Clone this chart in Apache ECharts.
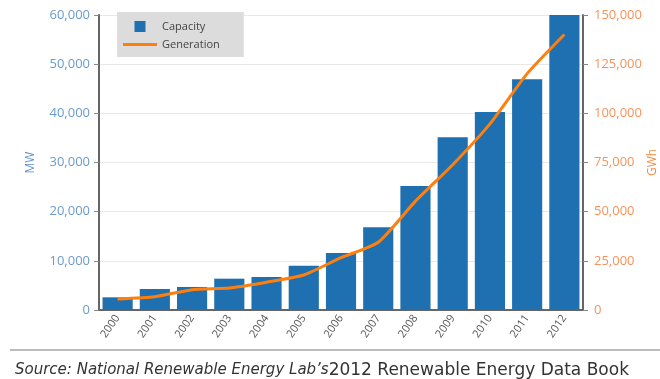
<!DOCTYPE html>
<html>
<head>
<meta charset="utf-8">
<script src="https://cdn.jsdelivr.net/npm/echarts@6/dist/echarts.min.js"></script>
<style>
  html, body { margin: 0; padding: 0; background: #fff; }
  #chart { width: 660px; height: 379px; }
</style>
</head>
<body>
<div id="chart"></div>
<script>
// Installed wind capacity (MW) and annual generation (GWh), US, 2000-2012
const years = ['2000','2001','2002','2003','2004','2005','2006','2007','2008','2009','2010','2011','2012'];
const capacityMW = [2578, 4275, 4685, 6372, 6725, 8993, 11575, 16824, 25237, 35159, 40267, 46916, 60007];
const generationGWh = [5593, 6737, 10354, 11187, 14144, 17811, 26589, 34450, 55363, 73886, 94652, 120177, 140089];
const mwTicks = { min: 0, max: 60000, interval: 10000 };
const gwhTicks = { min: 0, max: 150000, interval: 25000 };

const fmt = v => v.toLocaleString('en-US');
const font = '"Open Sans", "Noto Sans", sans-serif';
const sourceFont = '"DejaVu Sans", sans-serif';

const chart = echarts.init(document.getElementById('chart'), null, { renderer: 'canvas' });
chart.setOption({
  animation: false,
  textStyle: { fontFamily: font },
  grid: { left: 99, right: 77, top: 15, bottom: 69, outerBoundsMode: 'none', containLabel: false },
  legend: {
    orient: 'vertical',
    left: 117, top: 12,
    backgroundColor: '#dcdcdc',
    padding: [9, 24, 7, 6],
    itemWidth: 34, itemHeight: 11,
    itemGap: 7,
    textStyle: { color: '#444', fontSize: 11, fontFamily: font },
    data: [
      { name: 'Capacity', icon: 'path://M0,0h10v10h-10z' },
      { name: 'Generation', icon: 'path://M0,0h34v3h-34z' }
    ]
  },
  title: {
    left: 10, top: 357,
    text: '{i|Source: National Renewable Energy Lab’s}{n|2012 Renewable Energy Data Book}',
    textStyle: {
      fontWeight: 'normal',
      rich: {
        i: { fontStyle: 'italic', fontWeight: 'normal', fontSize: 15, color: '#333', fontFamily: sourceFont },
        n: { fontWeight: 'normal', fontSize: 17, color: '#333', fontFamily: sourceFont }
      }
    }
  },
  graphic: [
    { type: 'line', shape: { x1: 10, y1: 350, x2: 660, y2: 350 }, style: { stroke: '#bbb', lineWidth: 2 } }
  ],
  xAxis: {
    type: 'category',
    data: years,
    axisLine: { lineStyle: { color: '#666', width: 2 } },
    axisTick: { alignWithLabel: true, lineStyle: { color: '#888' }, length: 5 },
    axisLabel: { rotate: 55, color: '#555', fontSize: 11, margin: 6 }
  },
  yAxis: [
    {
      type: 'value', name: 'MW', nameLocation: 'middle', nameGap: 62, nameMoveOverlap: false,
      nameTextStyle: { color: '#5b8fc9', fontSize: 12 },
      min: mwTicks.min, max: mwTicks.max, interval: mwTicks.interval,
      axisLine: { show: true, lineStyle: { color: '#666', width: 2 } },
      axisTick: { show: true, length: 5, lineStyle: { color: '#888' } },
      axisLabel: { color: '#6a9bd0', fontSize: 13, formatter: fmt, margin: 9 },
      splitLine: { lineStyle: { color: '#e8e8e8' } }
    },
    {
      type: 'value', name: 'GWh', nameLocation: 'middle', nameGap: 64, nameMoveOverlap: false,
      nameTextStyle: { color: '#f58a3c', fontSize: 12 },
      min: gwhTicks.min, max: gwhTicks.max, interval: gwhTicks.interval,
      axisLine: { show: true, lineStyle: { color: '#666', width: 2 } },
      axisTick: { show: true, length: 5, lineStyle: { color: '#888' } },
      axisLabel: { color: '#f7935a', fontSize: 13, formatter: fmt, margin: 11 },
      splitLine: { show: false }
    }
  ],
  series: [
    {
      name: 'Capacity', type: 'bar', yAxisIndex: 0,
      data: capacityMW,
      barCategoryGap: '19%',
      itemStyle: { color: '#1f70b0' }
    },
    {
      name: 'Generation', type: 'line', yAxisIndex: 1,
      data: generationGWh,
      symbol: 'none', smooth: 0.2,
      lineStyle: { color: '#ff7f0e', width: 3 },
      itemStyle: { color: '#ff7f0e' }
    }
  ]
});
</script>
</body>
</html>
